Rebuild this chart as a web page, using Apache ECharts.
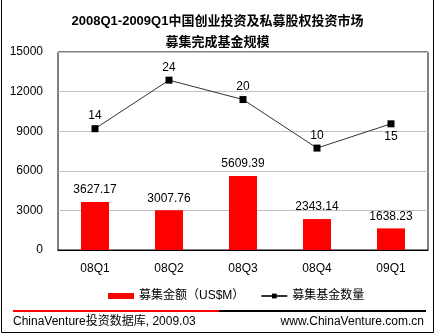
<!DOCTYPE html>
<html>
<head>
<meta charset="utf-8">
<script src="https://cdn.jsdelivr.net/npm/echarts@6/dist/echarts.min.js"></script>
<style>html,body{margin:0;padding:0;background:#fff}#c{width:435px;height:335px}</style>
</head>
<body>
<div id="c"></div>
<script>
var categories = ['08Q1', '08Q2', '08Q3', '08Q4', '09Q1'];
var fundAmount = [3627.17, 3007.76, 5609.39, 2343.14, 1638.23];
var fundCount = [14, 24, 20, 10, 15];
var countLabelPos = ['top', 'top', 'top', 'top', 'bottom'];
var yTicks = [0, 3000, 6000, 9000, 12000, 15000];
var titleLines = ['2008Q1-2009Q1中国创业投资及私募股权投资市场', '募集完成基金规模'];
var seriesNames = ['募集金额（US$M）', '募集基金数量'];
var footerLeft = 'ChinaVenture投资数据库, 2009.03';
var footerRight = 'www.ChinaVenture.com.cn';

var FONT = '"Liberation Sans", Arial, "Noto Sans CJK SC", sans-serif';
var chart = echarts.init(document.getElementById('c'), null, {renderer: 'canvas'});
chart.setOption({
  backgroundColor: '#fff',
  animation: false,
  textStyle: {fontFamily: FONT},
  title: {
    text: titleLines.join('\n'),
    left: 'center',
    top: 6,
    textStyle: {fontFamily: FONT, fontSize: 13, fontWeight: 'bold', color: '#000', lineHeight: 21}
  },
  grid: {left: 58, right: 7, top: 52, bottom: 85, show: true, borderColor: '#000', borderWidth: 1, backgroundColor: '#fff'},
  legend: {
    left: 103, top: 285, itemGap: 16, itemWidth: 26, itemHeight: 6,
    textStyle: {fontFamily: FONT, fontSize: 12, color: '#000'},
    data: [{name: seriesNames[0], icon: 'rect'}, {name: seriesNames[1]}]
  },
  xAxis: {
    type: 'category', data: categories,
    axisLine: {lineStyle: {color: '#000', width: 1}},
    axisTick: {show: false},
    axisLabel: {color: '#000', fontSize: 12, margin: 13, fontFamily: FONT}
  },
  yAxis: [{
    type: 'value', min: yTicks[0], max: yTicks[yTicks.length - 1], interval: 3000,
    axisLine: {show: false}, axisTick: {show: false},
    axisLabel: {color: '#000', fontSize: 12, margin: 15, fontFamily: FONT, formatter: function (v) { return String(v); }},
    splitLine: {lineStyle: {color: '#c0c0c0', width: 1}}
  }, {
    type: 'value', min: -11, max: 29.8, show: false, splitLine: {show: false}
  }],
  series: [{
    name: seriesNames[0], type: 'bar', data: fundAmount, barWidth: 28,
    itemStyle: {color: '#ff0000'},
    label: {show: true, position: 'top', distance: 6, color: '#000', fontSize: 12, fontFamily: FONT}
  }, {
    name: seriesNames[1], type: 'line', yAxisIndex: 1,
    data: fundCount.map(function (v, i) {
      return {value: v, label: {position: countLabelPos[i]}};
    }),
    symbol: 'rect', symbolSize: 7,
    lineStyle: {color: '#333', width: 1},
    itemStyle: {color: '#000'},
    label: {show: true, distance: 3, color: '#000', fontSize: 12, fontFamily: FONT}
  }],
  graphic: [
    {type: 'rect', shape: {x: 1.5, y: -0.5, width: 432, height: 333}, style: {fill: null, stroke: '#000', lineWidth: 1}, silent: true},
    {type: 'line', shape: {x1: 13, y1: 311, x2: 219, y2: 311}, style: {stroke: '#ff0000', lineWidth: 2}},
    {type: 'line', shape: {x1: 219, y1: 311, x2: 426, y2: 311}, style: {stroke: '#000', lineWidth: 2}},
    {type: 'text', left: 13, top: 316, style: {text: footerLeft, font: '12px ' + FONT, fill: '#000'}},
    {type: 'text', right: 11, top: 316, style: {text: footerRight, font: '12px ' + FONT, fill: '#000'}}
  ]
});
</script>
</body>
</html>
